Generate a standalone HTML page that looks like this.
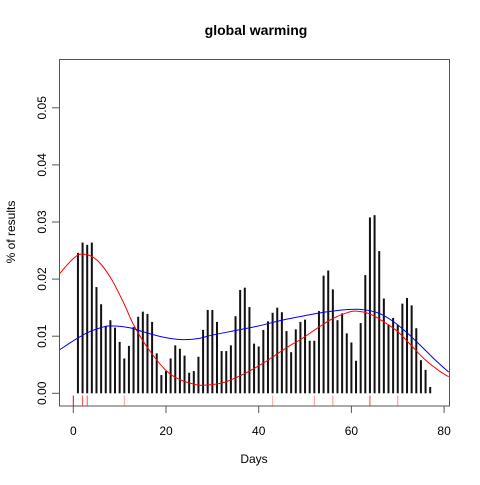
<!DOCTYPE html>
<html><head><meta charset="utf-8"><style>
html,body{margin:0;padding:0;background:#fff}
svg text{font-family:"Liberation Sans","DejaVu Sans",sans-serif}
</style></head><body>
<svg id="chart" width="480" height="480" viewBox="0 0 480 480" xmlns="http://www.w3.org/2000/svg">
<rect x="0" y="0" width="480" height="480" fill="#fff"/>
<text x="256" y="35" text-anchor="middle" font-size="14" font-weight="bold">global warming</text>
<text x="254" y="463" text-anchor="middle" font-size="12">Days</text>
<text transform="translate(15,232) rotate(-90)" text-anchor="middle" font-size="12">% of results</text>
<g id="bars"></g>
<g id="rug"></g>
<path id="redCurve" fill="none" stroke="#ff0000" stroke-width="1"/>
<path id="blueCurve" fill="none" stroke="#0000ff" stroke-width="1"/>
<g id="axes"></g>
<rect x="59.5" y="59.5" width="390" height="346.5" fill="none" stroke="#555" stroke-width="1"/>
</svg>
<script>
const days = [];
for (let d = 1; d <= 77; d++) days.push(d);
const barValues = [24.6,26.4,26.0,26.4,18.6,15.6,11.8,12.8,11.5,9.0,6.1,8.3,11.6,13.4,14.3,13.9,12.5,7.0,3.2,3.9,6.1,8.4,7.8,6.6,3.6,3.9,6.4,11.1,14.6,14.6,12.5,7.4,7.4,8.4,13.5,18.1,18.5,15.1,8.7,8.2,11.1,12.6,14.1,15.0,14.2,10.9,7.2,11.2,12.5,12.9,9.2,9.2,14.4,20.6,21.5,18.2,12.8,14.0,10.5,8.9,5.7,12.3,20.7,30.8,31.2,24.9,16.6,12.0,13.2,12.0,15.7,16.7,15.4,11.4,5.8,4.1,1.1];
const redDays = [-3,0,2,5,8,11,13,16,20,23,26,28,32,35,38,41,44,47,49,53,56,59,61,64,67,70,73,76,79,81];
const redValues = [20.9,23.6,24.4,23.4,20.3,15.6,12.0,8.0,4.0,2.4,1.6,1.4,1.8,2.7,3.9,5.3,6.9,8.5,9.4,11.6,13.1,14.1,14.4,13.9,12.5,10.8,8.3,5.8,3.9,2.9];
const blueDays = [-3,0,3,6,8,12,15,18,21,24,27,30,35,40,45,50,55,60,63,66,69,72,75,78,81];
const blueValues = [7.6,9.2,10.6,11.5,11.8,11.5,10.8,10.1,9.6,9.4,9.6,10.2,11.0,11.8,12.8,13.6,14.3,14.7,14.6,14.0,12.6,10.6,8.3,5.9,3.7];
const rugDays = [0,2,3,11,43,52,56,64,70];
const rugAlpha = [1,0.7,0.7,0.4,0.35,0.4,0.45,0.75,0.45];
const xTicks = [0,20,40,60,80];
const yTicks = [0,0.01,0.02,0.03,0.04,0.05];

const NS = 'http://www.w3.org/2000/svg';
const xs = d => 73.3 + d * 4.635;
const ys = v => 393.3 - v * 5710; // v as fraction
function mk(tag, attrs, parent){const e=document.createElementNS(NS,tag);for(const k in attrs)e.setAttribute(k,attrs[k]);parent.appendChild(e);return e;}

const bars = document.getElementById('bars');
days.forEach((d,i)=>{
  const v = barValues[i]/1000;
  const el = mk('rect',{x:xs(d)-1,y:ys(v),width:2,height:ys(0)-ys(v),fill:'#111'},bars);
  
  
});
const rug = document.getElementById('rug');
rugDays.forEach((d,i)=>{
  const el = mk('line',{x1:xs(d),x2:xs(d),y1:395.5,y2:406,stroke:'#ff0000','stroke-opacity':rugAlpha[i],'stroke-width':1},rug);
  
  
});
function smooth(dx, vy){
  const p = dx.map((d,i)=>[xs(d), ys(vy[i]/1000)]);
  let s = 'M'+p[0][0]+','+p[0][1];
  for(let i=0;i<p.length-1;i++){
    const p0=p[Math.max(0,i-1)],p1=p[i],p2=p[i+1],p3=p[Math.min(p.length-1,i+2)];
    const c1=[p1[0]+(p2[0]-p0[0])/6,p1[1]+(p2[1]-p0[1])/6];
    const c2=[p2[0]-(p3[0]-p1[0])/6,p2[1]-(p3[1]-p1[1])/6];
    s+=' C'+c1[0]+','+c1[1]+' '+c2[0]+','+c2[1]+' '+p2[0]+','+p2[1];
  }
  return s;
}
document.getElementById('redCurve').setAttribute('d', smooth(redDays, redValues));
document.getElementById('blueCurve').setAttribute('d', smooth(blueDays, blueValues));
const svg = document.getElementById('chart');
const cp = mk('clipPath',{id:'clip'},svg);
mk('rect',{x:59.5,y:59.5,width:390,height:346.5},cp);
document.getElementById('redCurve').setAttribute('clip-path','url(#clip)');
document.getElementById('blueCurve').setAttribute('clip-path','url(#clip)');

const axes = document.getElementById('axes');
xTicks.forEach(t=>{
  const l = mk('line',{x1:xs(t),x2:xs(t),y1:406,y2:413,stroke:'#555'},axes);
  
  
  const tx = mk('text',{x:xs(t),y:435,'text-anchor':'middle','font-size':'12'},axes);
  tx.textContent = t;
  
  
});
yTicks.forEach(t=>{
  const l = mk('line',{x1:52,x2:59.5,y1:ys(t),y2:ys(t),stroke:'#555'},axes);
  
  
  const tx = mk('text',{transform:'translate(46,'+ys(t)+') rotate(-90)','text-anchor':'middle','font-size':'12'},axes);
  tx.textContent = t.toFixed(2);
  
  
});
</script>
</body></html>
